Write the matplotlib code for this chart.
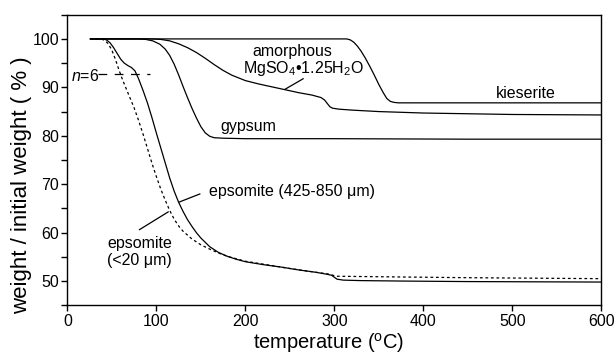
import matplotlib
matplotlib.use("Agg")
import matplotlib.pyplot as plt
from matplotlib.ticker import MultipleLocator

plt.rcParams['font.family'] = ['Liberation Sans', 'DejaVu Sans']
plt.rcParams['mathtext.fontset'] = 'custom'
plt.rcParams['mathtext.rm'] = 'Liberation Sans'
plt.rcParams['mathtext.it'] = 'Liberation Sans:italic'

# ---- data (temperature in C, weight %) ----
eps_coarse_T = [26, 40, 44, 48, 52, 56, 60, 64, 68, 72, 76, 80, 85, 90, 95, 100, 105, 110, 115,
                120, 125, 130, 135, 140, 145, 150, 160, 170, 180, 190, 200, 220, 240, 260, 280,
                292, 297, 300, 303, 310, 330, 380, 450, 600]
eps_coarse_w = [100, 100, 99.8, 99.2, 98.2, 97.0, 95.8, 95.0, 94.5, 94.1, 93.4, 91.8, 89.4, 86.8,
                83.8, 80.6, 77.5, 74.4, 71.3, 68.6, 66.3, 64.4, 62.7, 61.3, 60.0, 58.9, 57.1, 55.9,
                55.1, 54.5, 54.0, 53.4, 52.9, 52.3, 51.8, 51.4, 51.2, 50.8, 50.4, 50.2, 50.1, 50.0,
                49.9, 49.8]

eps_fine_T = [26, 38, 42, 46, 50, 54, 58, 62, 66, 70, 75, 80, 85, 90, 95, 100, 105, 110, 115,
              120, 125, 130, 140, 150, 160, 170, 180, 190, 200, 220, 250, 280, 292, 297, 300,
              303, 350, 450, 600]
eps_fine_w = [100, 100, 99.7, 99.0, 97.7, 95.8, 93.6, 91.6, 89.8, 88.0, 85.8, 83.2, 80.4, 77.4,
              74.4, 71.6, 69.0, 66.7, 64.6, 62.8, 61.4, 60.3, 58.7, 57.5, 56.6, 55.8, 55.1, 54.6,
              54.1, 53.5, 52.6, 51.8, 51.5, 51.3, 51.1, 51.0, 50.9, 50.7, 50.5]

gyp_T = [26, 80, 88, 96, 104, 110, 115, 120, 125, 130, 135, 140, 145, 150, 155, 160, 165, 175,
         200, 300, 450, 600]
gyp_w = [100, 100, 99.9, 99.6, 98.9, 97.9, 96.6, 94.8, 92.6, 90.2, 87.9, 85.7, 83.7, 81.9, 80.6,
         79.9, 79.6, 79.5, 79.4, 79.4, 79.3, 79.3]

amor_T = [26, 95, 105, 115, 125, 135, 145, 155, 165, 175, 185, 200, 215, 230, 245, 260, 275, 285,
          289, 292, 295, 298, 305, 320, 350, 400, 500, 600]
amor_w = [100, 100, 99.9, 99.6, 99.0, 98.2, 97.2, 96.0, 94.7, 93.5, 92.5, 91.4, 90.7, 90.1, 89.5,
          88.9, 88.4, 87.9, 87.4, 86.7, 86.0, 85.7, 85.5, 85.3, 85.0, 84.7, 84.4, 84.3]

kies_T = [26, 314, 318, 322, 326, 330, 335, 340, 345, 350, 355, 359, 363, 367, 372, 600]
kies_w = [100, 100, 99.8, 99.3, 98.5, 97.5, 96.0, 94.3, 92.5, 90.6, 88.9, 87.7, 87.1, 86.9, 86.8,
          86.8]

n6_T = [35, 93]
n6_w = [92.8, 92.8]

x_ticks = [0, 100, 200, 300, 400, 500, 600]
y_ticks = [50, 60, 70, 80, 90, 100]

fig = plt.figure(figsize=(6.16, 3.56), dpi=100)
ax = fig.add_axes([0.1093, 0.1424, 0.8668, 0.8163])

lw = 0.9
ax.plot(eps_coarse_T, eps_coarse_w, color='black', lw=lw)
ax.plot(eps_fine_T, eps_fine_w, color='black', lw=lw, dashes=(2.2, 2.2))
ax.plot(gyp_T, gyp_w, color='black', lw=lw)
ax.plot(amor_T, amor_w, color='black', lw=lw)
ax.plot(kies_T, kies_w, color='black', lw=lw)
ax.plot(n6_T, n6_w, color='black', lw=lw, dashes=(7, 6))

ax.set_xlim(0, 600)
ax.set_ylim(45, 105)
ax.set_xticks(x_ticks)
ax.set_yticks(y_ticks)
ax.yaxis.set_minor_locator(MultipleLocator(5))
ax.tick_params(axis='both', which='major', direction='out', length=4, width=1,
               labelsize=11.5, top=False, right=False, pad=2)
ax.tick_params(axis='y', which='minor', direction='out', length=4, width=1)
for s in ax.spines.values():
    s.set_linewidth(1.0)

ax.set_xlabel('temperature ($^{\\rm o}$C)', fontsize=14.5)
ax.xaxis.set_label_coords(0.49, -0.088)
ax.set_ylabel('weight / initial weight ( % )', fontsize=16)
ax.yaxis.set_label_coords(-0.067, 0.415)

fs = 11.5
ax.text(4, 92.4, '$n$=6', fontsize=fs, ha='left', va='center')
ax.text(253, 97.3, 'amorphous', fontsize=fs, ha='center', va='center')
ax.text(265, 93.8, 'MgSO$_4$\u2022' + '1.25H$_2$O', fontsize=fs, ha='center', va='center')
ax.text(515, 88.7, 'kieserite', fontsize=fs, ha='center', va='center')
ax.text(203, 82.0, 'gypsum', fontsize=fs, ha='center', va='center')
ax.text(252, 68.5, 'epsomite (425-850 \u03bcm)', fontsize=fs, ha='center', va='center')
ax.text(81.3, 56.0, 'epsomite\n(<20 \u03bcm)', fontsize=fs, ha='center', va='center',
        linespacing=1.15)

arrow = dict(arrowstyle='-', color='black', lw=0.9, shrinkA=0, shrinkB=0)
ax.annotate('', xy=(244.6, 89.6), xytext=(265.2, 91.8), arrowprops=arrow)
ax.annotate('', xy=(125.5, 66.3), xytext=(149.1, 68.0), arrowprops=arrow)
ax.annotate('', xy=(113.5, 64.3), xytext=(80.9, 60.6), arrowprops=arrow)

fig.savefig('out.png', dpi=100)
